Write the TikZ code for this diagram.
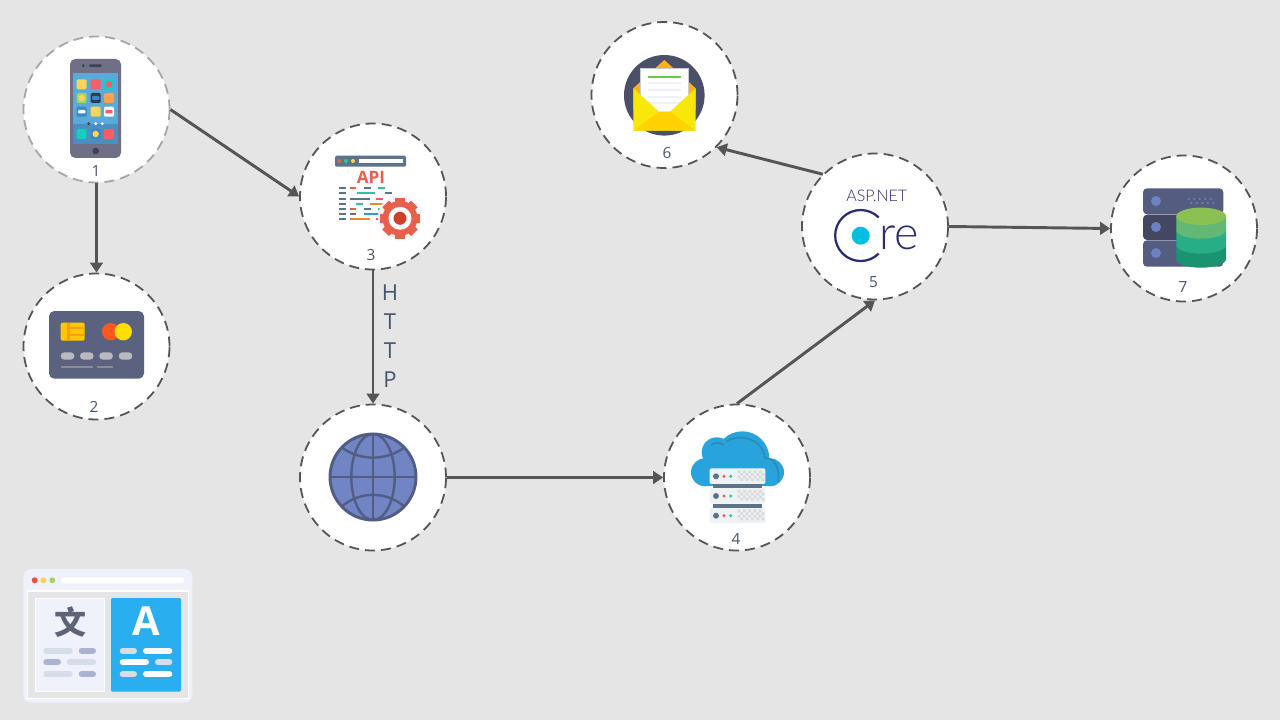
\documentclass[tikz,border=0pt]{standalone}
\usepackage{fontspec}
\usepackage{xcolor}
\setmainfont{Open Sans}
\newfontfamily\logofont{Lato Light}
\newfontfamily\cjkfont{Noto Sans CJK SC}
\usetikzlibrary{arrows.meta}

\definecolor{ink}{HTML}{44546A}
\definecolor{linegray}{HTML}{555555}
\definecolor{slate}{HTML}{5C7389}
\definecolor{apired}{HTML}{E8604C}
\definecolor{apiteal}{HTML}{2CC3A0}
\definecolor{apiorange}{HTML}{E58B35}
\definecolor{apiblue}{HTML}{2E9BD8}
\definecolor{pagelight}{HTML}{D5DCEA}
\definecolor{pagemid}{HTML}{AAB4D0}
\definecolor{phonebody}{HTML}{6F6F85}
\definecolor{phonescreen}{HTML}{5AA9D8}
\definecolor{phonedock}{HTML}{4A8FC0}
\definecolor{phonedark}{HTML}{3F4054}
\definecolor{appyellow}{HTML}{FDD35B}
\definecolor{appred}{HTML}{FC5C65}
\definecolor{appteal}{HTML}{12CFC0}
\definecolor{appgreen}{HTML}{A4D65E}
\definecolor{appdark}{HTML}{2E3A55}
\definecolor{apporange}{HTML}{FFA04C}
\definecolor{appblue}{HTML}{3D87C4}
\definecolor{cardbody}{HTML}{5B627F}
\definecolor{chipyellow}{HTML}{FFC800}
\definecolor{chiporange}{HTML}{FF9A1F}
\definecolor{cardred}{HTML}{FF5722}
\definecolor{cardpill}{HTML}{B9B9C0}
\definecolor{cardline}{HTML}{8B8A97}
\definecolor{gearcore}{HTML}{CF3F2A}
\definecolor{globefill}{HTML}{7184C4}
\definecolor{globeline}{HTML}{525D85}
\definecolor{cloudblue}{HTML}{29A3DC}
\definecolor{cloudedge}{HTML}{2A8BB8}
\definecolor{serverbox}{HTML}{EEF2F5}
\definecolor{maildark}{HTML}{4A5068}
\definecolor{mailorange}{HTML}{FFB01A}
\definecolor{mailgreen}{HTML}{5CD040}
\definecolor{mailline}{HTML}{EEF1F7}
\definecolor{mailyellow}{HTML}{F8E80A}
\definecolor{mailgold}{HTML}{FFD200}
\definecolor{coreblue}{HTML}{2B2D6E}
\definecolor{coredot}{HTML}{00BFE0}
\definecolor{dbbody}{HTML}{545D80}
\definecolor{dbdark}{HTML}{414860}
\definecolor{dbdot}{HTML}{6D82C4}
\definecolor{dblow}{HTML}{1A9470}
\definecolor{dbmid}{HTML}{27AE87}
\definecolor{dbhigh}{HTML}{62B874}
\definecolor{dbtop}{HTML}{8BC053}
\definecolor{winframe}{HTML}{F0F2FB}
\definecolor{winblue}{HTML}{29AEF0}
\definecolor{winglyph}{HTML}{5E6377}

\begin{document}
\begin{tikzpicture}[x=0.75pt, y=-0.75pt,
    main/.style = {draw=linegray, fill=white, circle, minimum size=109.5pt, inner sep=0pt,
                   line width=1.35pt, dash pattern=on 7.5pt off 4.5pt},
    num/.style = {text=ink, font=\fontsize{11.5pt}{14pt}\selectfont, inner sep=0pt},
    edge/.style = {draw=linegray, line width=2.2pt, -{Triangle[length=7.5pt, width=9.5pt]}},
    code/.style = {line width=1.3pt, draw=#1},
    pill/.style = {line width=4.5pt, line cap=round, draw=#1}]

    \fill[fill=black!10] (0,0) rectangle (1280,720);
    \useasboundingbox (0,0) rectangle (1280,720);

    \node[main, draw=black!35] (1) at (96.5,109.5) {};
    \node[main] (2)   at (96.5,346.5) {};
    \node[main] (3)   at (373,196.5)  {};
    \node[main] (web) at (373,477.5)  {};
    \node[main] (4)   at (737,477.5)  {};
    \node[main] (5)   at (875,226.5)  {};
    \node[main] (6)   at (664.5,95)   {};
    \node[main] (7)   at (1184,228.5) {};

    \draw[edge] (1.east)        -- (3.west);
    \draw[edge] (1.south)       -- (2.north);
    \draw[edge] (3.south)       -- (web.north);
    \draw[edge] (web.east)      -- (4.west);
    \draw[edge] (4.north)       -- (5.south);
    \draw[edge] (5.north west)  -- (6.south east);
    \draw[edge] (5.east)        -- (7.west);

    \node[num] (l1) at (96,171)    {1};
    \node[num] (l2) at (94,407)    {2};
    \node[num] (l3) at (371,255)   {3};
    \node[num] (l4) at (736,539)   {4};
    \node[num] (l5) at (873.5,282) {5};
    \node[num] (l6) at (667,153)   {6};
    \node[num] (l7) at (1183,287)  {7};
    \node[text=ink, align=center, inner sep=0pt, font=\fontsize{16.5pt}{21.75pt}\selectfont]
        (http) at (390,336.5) {H\\T\\T\\P};

    % phone
    \fill[fill=phonebody, rounded corners=4pt] (70,59) rectangle (121,158);
    \fill[fill=phonescreen] (73.3,72.7) rectangle (117.7,124.3);
    \fill[fill=phonedock]   (73.3,124.3) rectangle (117.7,144.3);
    \fill[fill=phonedark] (83.3,65.7) circle (1.6);
    \fill[fill=phonedark, rounded corners=1pt] (89,64.4) rectangle (102,67);
    \fill[fill=phonedark] (95.7,151) circle (3.3);
    \foreach \x/\y/\c in {81.7/84.3/appyellow, 95.7/84.3/appred, 109/84.3/appteal,
                          81.7/98/appgreen, 95.7/98/appdark, 109/98/apporange,
                          81.7/111.7/appblue, 95.7/111.7/appyellow, 109/111.7/white,
                          81.7/134/appteal, 95.7/134/appblue, 109/134/appred}
        \fill[fill=\c, rounded corners=1pt] (\x-5,\y-5) rectangle (\x+5,\y+5);
    \fill[fill=appred]    (109,84.3)   circle (3.2);
    \fill[fill=appyellow] (81.7,98)    circle (3.2);
    \fill[fill=appyellow] (95.7,134)   circle (3.2);
    \fill[fill=appblue, rounded corners=.8pt]  (92,96) rectangle (99.5,100);
    \fill[fill=white, rounded corners=.8pt]    (78,110) rectangle (85.5,113.5);
    \fill[fill=appred, rounded corners=.8pt]   (105.3,110) rectangle (112.7,113.5);
    \fill[fill=phonedark] (88.7,123.7) circle (1.6);
    \fill[fill=white]     (95.7,123.7) circle (1.6);
    \fill[fill=white]     (102.3,123.7) circle (1.6);

    % card
    \fill[fill=cardbody, rounded corners=4pt] (49,311) rectangle (144,378.7);
    \fill[fill=chipyellow, rounded corners=1.5pt] (60.7,322.7) rectangle (84.7,340.7);
    \fill[fill=chiporange] (67.3,322.7) rectangle (70,340.7);
    \fill[fill=chiporange] (70,327.4) rectangle (84.7,329.2);
    \fill[fill=chiporange] (70,334.1) rectangle (84.7,335.9);
    \fill[fill=cardred]    (110.7,331.7) circle (8.7);
    \fill[fill=chipyellow!60!yellow] (123.3,331.7) circle (8.7);
    \foreach \x in {60.7,80,99.3,118.7}
        \fill[fill=cardpill, rounded corners=2.7pt] (\x,352.3) rectangle (\x+13.6,359.7);
    \draw[line width=2.2pt, draw=cardline] (60.7,367) -- (93.3,367);
    \draw[line width=2.2pt, draw=cardline] (96.7,367) -- (113,367);

    % api page
    \fill[fill=slate, rounded corners=1pt] (335,155.7) rectangle (406,166.7);
    \fill[fill=apired]      (339.3,161) circle (2);
    \fill[fill=apiteal]     (346,161)   circle (2);
    \fill[fill=appyellow]   (353,161)   circle (2);
    \fill[fill=white]       (358.7,159) rectangle (403.3,163);
    \node[text=apired, inner sep=0pt, font=\bfseries\fontsize{12.8pt}{14pt}\selectfont] (api) at (371,177.3) {API};
    \foreach \y in {188,193.3,198.7,203.7,209,214,219}
        \draw[code=slate] (339,\y) -- (346,\y);
    \foreach \a/\b/\y/\c in {349.7/356.3/188/apired, 364/370.7/188/slate, 378.3/385/188/apiteal,
                             356.7/374.7/193.3/apiteal, 385/391.7/193.3/slate,
                             349.7/370/198.7/slate, 376/383/198.7/apired, 392/398.7/198.7/apiteal,
                             356.3/363/203.7/apiteal, 370/390/203.7/apiorange,
                             349.7/356.3/209/apired, 364/370.7/209/slate, 378.3/385/209/apiteal,
                             349.7/356.3/214/slate, 364/385/214/apiblue,
                             349.7/370/219/apiorange, 376/383/219/apired}
        \draw[code=\c] (\a,\y) -- (\b,\y);
    % gear
    \fill[fill=black!3] (400,217) circle (22);
    \fill[fill=apired] (400,218.3) circle (17.5);
    \foreach \a in {0,45,...,315}
        \fill[fill=apired, rotate around={\a:(400,218.3)}] (395.3,198) rectangle (404.7,206);
    \fill[fill=white] (400,218.3) circle (11.5);
    \fill[fill=gearcore] (400,218.3) circle (6.5);

    % globe
    \filldraw[fill=globefill, draw=globeline, line width=2.2pt] (373,477) circle (43);
    \draw[draw=globeline, line width=1.8pt] (373,434) -- (373,520) (330,477) -- (416,477);
    \draw[draw=globeline, line width=1.8pt] (373,477) ellipse (21.7 and 43);
    \draw[draw=globeline, line width=1.8pt] (341.7,447.5) .. controls (360,461) and (386,461) .. (404.3,447.5);
    \draw[draw=globeline, line width=1.8pt] (341.7,506.5) .. controls (360,491) and (386,491) .. (404.3,506.5);

    % cloud
    \fill[fill=cloudblue] (742.3,458.3) circle (27);
    \fill[fill=cloudblue] (716.7,452.3) circle (15);
    \fill[fill=cloudblue] (705,472.3)   circle (14);
    \fill[fill=cloudblue] (770,472.3)   circle (14);
    \fill[fill=cloudblue] (705,460) rectangle (770,486.3);
    \draw[draw=cloudedge, line width=1.2pt] (726,442) .. controls (736,434) and (762,436) .. (765,458)
        .. controls (775,458) and (780,468) .. (778,482);
    \draw[draw=cloudedge, line width=1.2pt] (711,445) .. controls (714,442) and (720,442) .. (724,445);
    \foreach \y in {476.3,496,515.7} {
        \fill[fill=serverbox, rounded corners=1pt] (709.7,\y-8) rectangle (765.3,\y+7.5);
        \fill[fill=slate]  (716,\y) circle (3);
        \fill[fill=apired] (724,\y) circle (1.7);
        \fill[fill=apiteal] (730.7,\y) circle (1.7);
        \foreach \i in {0,...,4} \foreach \j in {0,1}
            \fill[fill=black!15] (737.7+\i*5.3,\y-6+\j*5.3) rectangle ++(2.7,2.7)
                                 (740.4+\i*5.3,\y-3.3+\j*5.3) rectangle ++(2.7,2.7);
    }
    \fill[fill=slate] (713,484.3) rectangle (762,487.7);
    \fill[fill=slate] (713,504)   rectangle (762,507.7);

    % envelope
    \fill[fill=maildark] (664.3,95.3) circle (40.3);
    \fill[fill=mailorange] (633.3,88.3) -- (664.3,60) -- (695.7,88.3) -- (695.7,110) -- (633.3,110) -- cycle;
    \filldraw[fill=white, draw=black!20, line width=.4pt] (640.3,68.3) rectangle (688.7,112);
    \draw[line width=1.5pt, draw=mailgreen] (648,77) -- (681,77);
    \foreach \y in {83.3,90,96.7,103.3}
        \draw[line width=1.3pt, draw=mailline] (648,\y) -- (681,\y);
    \fill[fill=mailyellow] (633.3,88.3) -- (659,111.7) -- (670,111.7) -- (695.7,88.3) -- (695.7,130.7) -- (633.3,130.7) -- cycle;
    \fill[fill=mailgold] (633.3,130.7) -- (659,111.7) -- (670,111.7) -- (695.7,130.7) -- cycle;

    % asp net core
    \node[text=coreblue, inner sep=0pt, font=\logofont\fontsize{12pt}{14pt}\selectfont] (asp) at (876.7,195.7) {ASP.NET};
    \draw[draw=coreblue, line width=1.7pt] (878.7,217.5) arc[start angle=-45, end angle=-315, radius=25.5];
    \fill[fill=coredot] (860.7,235.7) circle (9);
    \node[text=coreblue, inner sep=0pt, anchor=base, font=\logofont\fontsize{35pt}{38pt}\selectfont] (core) at (899,249) {re};

    % database
    \fill[fill=dbbody, rounded corners=3pt] (1143,188.3) rectangle (1223.3,214.3);
    \fill[fill=dbdark, rounded corners=3pt] (1143,214.7) rectangle (1223.3,240);
    \fill[fill=dbbody, rounded corners=3pt] (1143,240.3) rectangle (1223.3,266.7);
    \foreach \y in {201,227,253}
        \fill[fill=dbdot] (1156,\y) circle (5);
    \foreach \i in {0,...,4} {
        \fill[fill=dbdot] (1188.7+\i*5.5,199) circle (1.2);
        \fill[fill=dbdot] (1191.3+\i*5.5,203) circle (1.2);
    }
    \foreach \t/\b/\c in {245/259/dblow, 230/245/dbmid, 216/230/dbhigh}
        \fill[fill=\c] (1176.3,\t) -- (1176.3,\b) arc[start angle=180, end angle=0, x radius=24.85, y radius=8.7] -- (1226,\t) -- cycle;
    \fill[fill=dbtop] (1201.15,216.3) ellipse (24.85 and 8.7);

    % translate window
    \fill[fill=winframe, rounded corners=6pt] (23.3,569) rectangle (192.3,702.7);
    \filldraw[fill=black!10, draw=white, line width=.8pt] (27.7,591) rectangle (188.3,698.3);
    \fill[fill=apired!80!red] (34.7,580.3) circle (3);
    \fill[fill=appyellow]     (43.3,580.3) circle (3);
    \fill[fill=appgreen]      (52.3,580.3) circle (3);
    \fill[fill=white, rounded corners=2pt] (61,577.3) rectangle (184.3,583.3);
    \filldraw[fill=winframe, draw=white, line width=.6pt] (35,598.3) rectangle (104.3,691);
    \fill[fill=winblue, rounded corners=1pt] (111,598) rectangle (181,691.7);
    \node[text=winglyph, inner sep=0pt, font=\cjkfont\bfseries\fontsize{24pt}{26pt}\selectfont] (wen) at (70,622) {文};
    \node[text=white, inner sep=0pt, font=\bfseries\fontsize{30pt}{32pt}\selectfont] (latin) at (146,621) {A};
    \foreach \a/\b/\y/\c in {46.3/69.7/650.7/pagelight, 81.7/93/650.7/pagemid,
                             46.3/58/662.3/pagemid, 69.7/93/662.3/pagelight,
                             46.3/69.7/674/pagelight, 81.7/93/674/pagemid,
                             122.7/134/650.7/pagelight, 146/169.3/650.7/white,
                             122.7/146/662.3/white, 158/169.3/662.3/pagelight,
                             122.7/134/674/pagelight, 146/169.3/674/white}
        \draw[pill=\c] (\a,\y) -- (\b,\y);
\end{tikzpicture}
\end{document}
